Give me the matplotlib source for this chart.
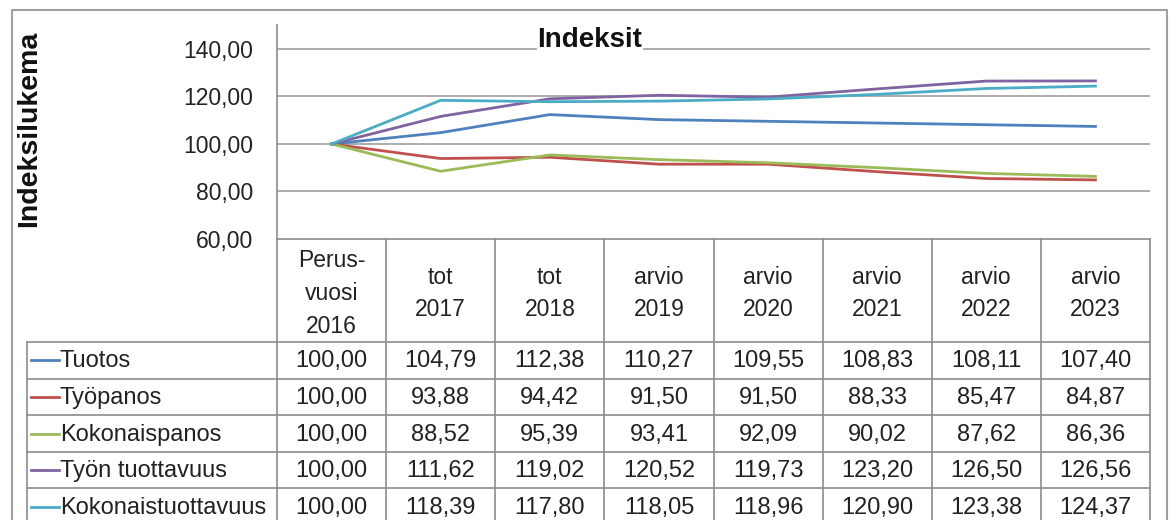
import matplotlib
matplotlib.use("Agg")
import matplotlib.pyplot as plt
from matplotlib.lines import Line2D

plt.rcParams['font.family'] = ['Liberation Sans', 'DejaVu Sans']

# ---------------- data ----------------
categories = ["Perus-\nvuosi\n2016", "tot\n2017", "tot\n2018", "arvio\n2019",
              "arvio\n2020", "arvio\n2021", "arvio\n2022", "arvio\n2023"]
series_names = ["Tuotos", "Työpanos", "Kokonaispanos", "Työn tuottavuus", "Kokonaistuottavuus"]
tuotos = [100.00, 104.79, 112.38, 110.27, 109.55, 108.83, 108.11, 107.40]
tyopanos = [100.00, 93.88, 94.42, 91.50, 91.50, 88.33, 85.47, 84.87]
kokonaispanos = [100.00, 88.52, 95.39, 93.41, 92.09, 90.02, 87.62, 86.36]
tyon_tuottavuus = [100.00, 111.62, 119.02, 120.52, 119.73, 123.20, 126.50, 126.56]
kokonaistuottavuus = [100.00, 118.39, 117.80, 118.05, 118.96, 120.90, 123.38, 124.37]
yticks = [60, 80, 100, 120, 140]
title = "Indeksit"
ylabel = "Indeksilukema"

series = [tuotos, tyopanos, kokonaispanos, tyon_tuottavuus, kokonaistuottavuus]
colors = ["#4F81BD", "#C0504D", "#9BBB59", "#8064A2", "#4BACC6"]

# ---------------- layout (pixels) ----------------
W, H = 1172, 520
L, R = 277, 1150
T, B = 25, 239
px_per_20 = 47.5
n = len(categories)
colw = (R - L) / n

fig = plt.figure(figsize=(W / 100, H / 100), dpi=100)
fig.patch.set_facecolor("white")

ax = fig.add_axes([L / W, 1 - B / H, (R - L) / W, (B - T) / H])
ax.set_xlim(-0.5, n - 0.5)
ax.set_ylim(60, 60 + (B - T) / px_per_20 * 20)
for s, c in zip(series, colors):
    ax.plot(range(n), s, color=c, lw=2.0, solid_joinstyle="round", zorder=3)

ax.set_yticks(yticks)
ax.set_yticklabels([f"{v:.2f}".replace(".", ",") for v in yticks], fontsize=16.5, color="#222222")
ax.tick_params(axis="y", length=0, pad=17)
ax.set_xticks([])
for sp in ["top", "right", "bottom"]:
    ax.spines[sp].set_visible(False)
ax.spines["left"].set_color("#8c8c8c")
ax.spines["left"].set_linewidth(1.2)
for v in yticks[1:]:
    ax.axhline(v, color="#a6a6a6", lw=1.3, zorder=1)

# ---------------- data table ----------------
tax = fig.add_axes([L / W, 0, (R - L) / W, (H - B) / H], sharex=ax)
tax.set_ylim(H - B, 0)
tax.axis("off")

def px2x(p):
    return -0.5 + (p - L) / colw

head_h = 103
row_h = 36.6
x0 = px2x(27)
lc = "#8c8c8c"
lw = 1.2
bottom = H - B + 10

# horizontal lines
tax.plot([-0.5, n - 0.5], [0, 0], color=lc, lw=lw, clip_on=False)
for i in range(len(series) + 1):
    y = head_h + i * row_h
    if y < H - B:
        tax.plot([x0, n - 0.5], [y, y], color=lc, lw=lw, clip_on=False)
# vertical lines
for k in range(n + 1):
    tax.plot([-0.5 + k, -0.5 + k], [0, bottom], color=lc, lw=lw, clip_on=False)
tax.plot([x0, x0], [head_h, bottom], color=lc, lw=lw, clip_on=False)

# header
for i, cat in enumerate(categories):
    tax.text(i, head_h / 2 + 3, cat, ha="center", va="center", fontsize=16.5,
             color="#222222", linespacing=1.55, clip_on=False)

# rows
for r, (name, s, c) in enumerate(zip(series_names, series, colors)):
    yc = head_h + row_h * (r + 0.5)
    tax.plot([px2x(31), px2x(59)], [yc, yc], color=c, lw=2.0, clip_on=False)
    tax.text(px2x(60), yc + 1, name, ha="left", va="center", fontsize=17,
             color="#222222", clip_on=False)
    for i, v in enumerate(s):
        tax.text(i, yc + 1, f"{v:.2f}".replace(".", ","), ha="center", va="center",
                 fontsize=17, color="#222222", clip_on=False)

# ---------------- titles and frame ----------------
fig.text(590 / W, 1 - 40 / H, title, ha="center", va="center", fontsize=20,
         fontweight="bold", color="#111111",
         bbox=dict(facecolor="white", edgecolor="none", pad=0.5), zorder=5)
fig.text(29 / W, 1 - 129 / H, ylabel, ha="center", va="center", rotation=90,
         fontsize=20.5, fontweight="bold", color="#111111")

bx = [12 / W, 12 / W, 1167 / W, 1167 / W]
by = [-0.05, 1 - 10 / H, 1 - 10 / H, -0.05]
fig.add_artist(Line2D(bx, by, transform=fig.transFigure, color="#a0a0a0", lw=1.5))

fig.savefig("out.png", dpi=100)
